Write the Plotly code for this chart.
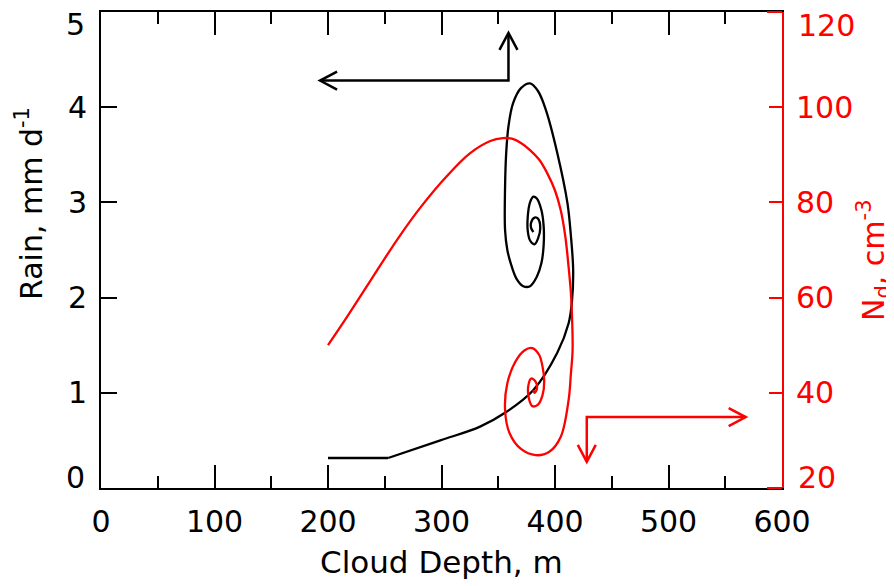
import plotly.graph_objects as go

# ---- data ----
rain_depth = [200, 226, 253, 299, 334, 356, 381, 402, 412, 415, 416, 414, 411, 402,
              392, 385, 378, 370, 363, 359, 357, 356, 356, 358, 361, 366, 372, 378, 384,
              388, 390, 390, 388, 384, 381, 378, 376, 376, 378, 382, 385, 387, 385, 382,
              379, 379, 381]
rain_val = [0.315, 0.315, 0.315, 0.50, 0.645, 0.79, 1.03, 1.42, 1.73, 1.97, 2.29, 2.65,
            2.99, 3.52, 3.97, 4.17, 4.25, 4.20, 4.04, 3.80, 3.52, 3.16, 2.71, 2.50, 2.36,
            2.20, 2.12, 2.12, 2.22, 2.36, 2.55, 2.75, 2.92, 3.04, 3.06, 3.00, 2.85, 2.70,
            2.60, 2.56, 2.62, 2.73, 2.83, 2.84, 2.79, 2.73, 2.69]

nd_depth = [200, 215, 237, 261, 281, 305, 325, 343, 354, 362, 370, 378, 386, 393, 400, 405,
            409, 412, 414, 415, 415.5, 414, 412, 405, 395, 383, 370, 360, 356, 358, 365,
            373, 380, 386, 389, 390.5, 389, 385, 380, 377, 376.5, 379, 383, 384, 382, 381]
nd_val = [50.0, 55.3, 63.4, 72.2, 78.8, 85.6, 90.3, 92.9, 93.5, 93.4, 92.5, 91.0, 89.0,
          86.2, 82.5, 78.4, 73.0, 66.4, 61.0, 55.9, 49.0, 44.0, 38.5, 30.7, 27.6, 26.9,
          28.2, 31.5, 36.5, 42.0, 46.5, 48.9, 49.4, 48.0, 45.5, 42.5, 39.5, 37.5, 37.2,
          38.8, 41.5, 43.0, 42.3, 40.8, 40.0, 40.6]

x_ticks = [0, 100, 200, 300, 400, 500, 600]
rain_ticks = [0, 1, 2, 3, 4, 5]
nd_ticks = [20, 40, 60, 80, 100, 120]

# arrow polylines: tip -> corner -> tip
rain_arrow_x = [193, 359, 359]
rain_arrow_y = [4.28, 4.28, 4.78]
nd_arrow_x = [568, 428, 428]
nd_arrow_y = [34.9, 34.9, 25.5]

FONT = "DejaVu Sans"
RED = "#ff0000"
FLAT_END = 2  # index where the flat rain segment ends

fig = go.Figure()
fig.add_trace(go.Scatter(x=rain_depth[:FLAT_END + 1], y=rain_val[:FLAT_END + 1], mode="lines",
                         line=dict(color="black", width=2.3),
                         showlegend=False, yaxis="y"))
fig.add_trace(go.Scatter(x=rain_depth[FLAT_END:], y=rain_val[FLAT_END:], mode="lines",
                         line=dict(color="black", width=2.3, shape="spline", smoothing=1.0),
                         showlegend=False, yaxis="y"))
fig.add_trace(go.Scatter(x=nd_depth, y=nd_val, mode="lines",
                         line=dict(color=RED, width=2.3, shape="spline", smoothing=1.0),
                         showlegend=False, yaxis="y2"))

shapes = []


def add_arrow(xs, ys, yref, color):
    path = "M " + " L ".join(f"{x},{y}" for x, y in zip(xs, ys))
    shapes.append(dict(type="path", path=path, xref="x", yref=yref,
                       line=dict(color=color, width=2.5), layer="above"))
    for tip, frm in ((0, 1), (len(xs) - 1, len(xs) - 2)):
        dx = (xs[tip] > xs[frm]) - (xs[tip] < xs[frm])
        dy = (ys[tip] > ys[frm]) - (ys[tip] < ys[frm])
        L, W = 17, 9
        px, py = -dx, -dy  # back direction
        qx, qy = -dy, dx   # perpendicular
        a1 = (px * L + qx * W, py * L + qy * W)
        a2 = (px * L - qx * W, py * L - qy * W)
        hp = f"M {a1[0]},{a1[1]} L 0,0 L {a2[0]},{a2[1]}"
        shapes.append(dict(type="path", path=hp, xref="x", yref=yref,
                           xsizemode="pixel", ysizemode="pixel",
                           xanchor=xs[tip], yanchor=ys[tip],
                           line=dict(color=color, width=2.5), layer="above"))


add_arrow(rain_arrow_x, rain_arrow_y, "y", "black")
add_arrow(nd_arrow_x, nd_arrow_y, "y2", RED)

# short red caps where the right axis meets the frame
for yv in (0, 1):
    shapes.append(dict(type="line", xref="paper", yref="paper", xsizemode="pixel",
                       xanchor=1, x0=-15, x1=0, y0=yv, y1=yv,
                       line=dict(color=RED, width=2), layer="above"))

annotations = [
    dict(text="Cloud Depth, m", xref="paper", yref="paper", x=0.5, y=0, yshift=-74,
         xanchor="center", yanchor="middle", showarrow=False,
         font=dict(family=FONT, size=31, color="black")),
    dict(text="Rain, mm d<sup>-1</sup>", xref="paper", yref="paper", x=0, xshift=-72,
         y=(476 - 192) / 476, yanchor="middle", xanchor="center", textangle=-90,
         showarrow=False, font=dict(family=FONT, size=30, color="black")),
    dict(text="N<sub>d</sub>, cm<sup>-3</sup>", xref="paper", yref="paper", x=1, xshift=92,
         y=(476 - 248) / 476, yanchor="middle", xanchor="center", textangle=-90,
         showarrow=False, font=dict(family=FONT, size=30, color=RED)),
    # end tick labels shifted inward
    dict(text=str(rain_ticks[0]), xref="paper", yref="y", x=0, y=rain_ticks[0], xshift=-14,
         yshift=11, xanchor="right", yanchor="middle", showarrow=False,
         font=dict(family=FONT, size=30, color="black")),
    dict(text=str(rain_ticks[-1]), xref="paper", yref="y", x=0, y=rain_ticks[-1], xshift=-14,
         yshift=-12, xanchor="right", yanchor="middle", showarrow=False,
         font=dict(family=FONT, size=30, color="black")),
    dict(text=str(nd_ticks[0]), xref="paper", yref="y2", x=1, y=nd_ticks[0], xshift=14,
         yshift=11, xanchor="left", yanchor="middle", showarrow=False,
         font=dict(family=FONT, size=30, color=RED)),
    dict(text=str(nd_ticks[-1]), xref="paper", yref="y2", x=1, y=nd_ticks[-1], xshift=14,
         yshift=-13, xanchor="left", yanchor="middle", showarrow=False,
         font=dict(family=FONT, size=30, color=RED)),
]

rain_text = [""] + [str(v) for v in rain_ticks[1:-1]] + [""]
nd_text = [""] + [str(v) for v in nd_ticks[1:-1]] + [""]

# the page body has an 8 px default margin, so the figure is 8 px smaller
fig.update_layout(
    width=886, height=578,
    margin=dict(l=93, r=112, t=4, b=98),
    paper_bgcolor="white", plot_bgcolor="white",
    font=dict(family=FONT, size=30, color="black"),
    xaxis=dict(range=[0, 600], tickvals=x_ticks, ticktext=[str(v) for v in x_ticks],
               ticks="inside", ticklen=23, tickwidth=2, tickcolor="black",
               minor=dict(dtick=50, ticks="inside", ticklen=12, tickwidth=2, tickcolor="black"),
               showline=True, linecolor="black", linewidth=2, mirror="ticks",
               showgrid=False, zeroline=False, ticklabelstandoff=6, automargin=False,
               tickfont=dict(family=FONT, size=30, color="black")),
    yaxis=dict(range=[0, 5], tickvals=rain_ticks, ticktext=rain_text,
               ticks="inside", ticklen=16, tickwidth=2, tickcolor="black",
               showline=True, linecolor="black", linewidth=2,
               showgrid=False, zeroline=False, ticklabelstandoff=6, automargin=False,
               tickfont=dict(family=FONT, size=30, color="black")),
    yaxis2=dict(range=[20, 120], tickvals=nd_ticks, ticktext=nd_text, overlaying="y",
                side="right", ticks="inside", ticklen=13, tickwidth=2, tickcolor=RED,
                showline=True, linecolor=RED, linewidth=2,
                showgrid=False, zeroline=False, ticklabelstandoff=6, automargin=False,
                tickfont=dict(family=FONT, size=30, color=RED)),
    shapes=shapes,
    annotations=annotations,
)

fig.write_html("out.html")
